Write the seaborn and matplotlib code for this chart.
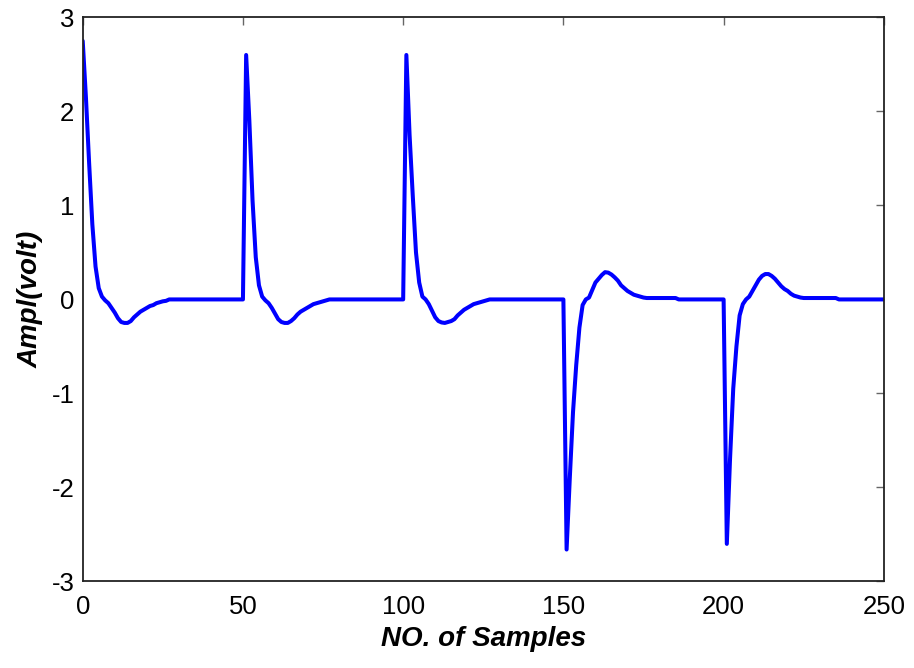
import numpy as np
import matplotlib
matplotlib.use("Agg")
import matplotlib.pyplot as plt
import seaborn as sns

# ECG-like pulse train, one value per sample (0..250)
samples = list(range(0, 251))
ampl = [
    # 0-50: first beat (truncated QRS) + trough
    2.75, 2.15, 1.45, 0.80, 0.35, 0.12, 0.03, -0.01, -0.04, -0.09,
    -0.14, -0.20, -0.24, -0.25, -0.25, -0.23, -0.19, -0.16, -0.13, -0.11,
    -0.09, -0.07, -0.06, -0.04, -0.03, -0.02, -0.015, 0.0, 0.0, 0.0,
    0.0, 0.0, 0.0, 0.0, 0.0, 0.0, 0.0, 0.0, 0.0, 0.0,
    0.0, 0.0, 0.0, 0.0, 0.0, 0.0, 0.0, 0.0, 0.0, 0.0,
    # 50-100
    0.0, 2.60, 1.90, 1.05, 0.45, 0.15, 0.03, -0.01, -0.04, -0.09,
    -0.15, -0.21, -0.24, -0.25, -0.25, -0.23, -0.20, -0.16, -0.13, -0.11,
    -0.09, -0.07, -0.05, -0.04, -0.03, -0.02, -0.01, 0.0, 0.0, 0.0,
    0.0, 0.0, 0.0, 0.0, 0.0, 0.0, 0.0, 0.0, 0.0, 0.0,
    0.0, 0.0, 0.0, 0.0, 0.0, 0.0, 0.0, 0.0, 0.0, 0.0,
    # 100-150
    0.0, 2.60, 1.75, 1.10, 0.50, 0.18, 0.03, 0.0, -0.05, -0.12,
    -0.19, -0.23, -0.245, -0.25, -0.24, -0.23, -0.21, -0.17, -0.14, -0.11,
    -0.09, -0.07, -0.05, -0.04, -0.03, -0.02, -0.01, 0.0, 0.0, 0.0,
    0.0, 0.0, 0.0, 0.0, 0.0, 0.0, 0.0, 0.0, 0.0, 0.0,
    0.0, 0.0, 0.0, 0.0, 0.0, 0.0, 0.0, 0.0, 0.0, 0.0,
    # 150-200: inverted beat with positive T bump
    0.0, -2.66, -1.90, -1.20, -0.70, -0.30, -0.06, 0.0, 0.02, 0.10,
    0.18, 0.22, 0.26, 0.29, 0.285, 0.265, 0.235, 0.20, 0.15, 0.12,
    0.09, 0.07, 0.05, 0.04, 0.03, 0.02, 0.015, 0.015, 0.015, 0.015,
    0.015, 0.015, 0.015, 0.015, 0.015, 0.015, 0.0, 0.0, 0.0, 0.0,
    0.0, 0.0, 0.0, 0.0, 0.0, 0.0, 0.0, 0.0, 0.0, 0.0,
    # 200-250
    0.0, -2.60, -1.70, -0.95, -0.50, -0.17, -0.05, 0.0, 0.03, 0.09,
    0.15, 0.21, 0.25, 0.27, 0.27, 0.25, 0.22, 0.18, 0.14, 0.11,
    0.09, 0.06, 0.04, 0.03, 0.02, 0.015, 0.015, 0.015, 0.015, 0.015,
    0.015, 0.015, 0.015, 0.015, 0.015, 0.015, 0.0, 0.0, 0.0, 0.0,
    0.0, 0.0, 0.0, 0.0, 0.0, 0.0, 0.0, 0.0, 0.0, 0.0,
    0.0,
]

x_ticks = [0, 50, 100, 150, 200, 250]
y_ticks = [-3, -2, -1, 0, 1, 2, 3]

sns.set_style("white")
plt.rcParams["font.family"] = ["Liberation Sans", "DejaVu Sans"]
plt.rcParams["axes.unicode_minus"] = False

fig = plt.figure(figsize=(9.14, 6.68), dpi=100)
ax = fig.add_axes([0.0905, 0.1295, 0.8765, 0.8445])

sns.lineplot(x=samples, y=ampl, ax=ax, color="#0000ff", linewidth=2.9)

ax.set_xlim(0, 250)
ax.set_ylim(-3, 3)
ax.set_xticks(x_ticks)
ax.set_yticks(y_ticks)
ax.tick_params(direction="in", length=6, width=1, color="#666666",
               labelcolor="black", top=True, right=True, labelsize=18.5)
ax.tick_params(axis="x", pad=10)
ax.tick_params(axis="y", pad=6)
for s in ax.spines.values():
    s.set_visible(True)
    s.set_color("#222222")
    s.set_linewidth(1.3)

ax.set_xlabel("NO. of Samples", fontsize=20, fontweight="bold",
              fontstyle="italic", labelpad=5, color="black")
ax.set_ylabel("Ampl(volt)", fontsize=20, fontweight="bold",
              fontstyle="italic", labelpad=6, color="black")

fig.savefig("out.png", dpi=100)
